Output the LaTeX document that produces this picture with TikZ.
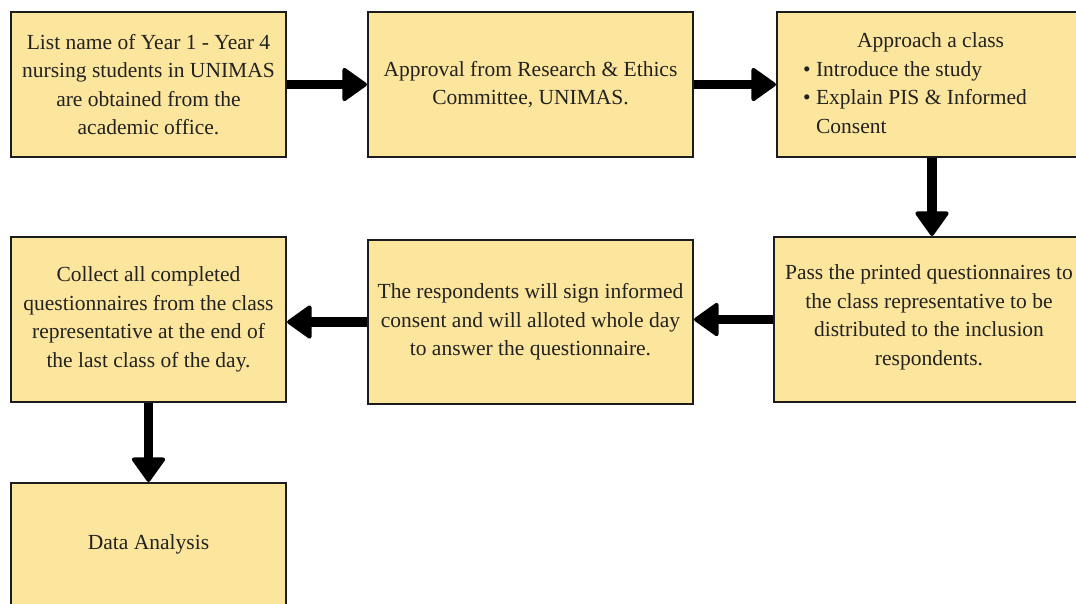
\documentclass[tikz,border=0pt]{standalone}
\usepackage{fontspec}
\setmainfont{Liberation Serif}
\usetikzlibrary{arrows.meta}
\definecolor{boxfill}{HTML}{FCE59C}
\definecolor{boxline}{HTML}{1C1C1C}
\definecolor{txt}{HTML}{222222}
\tikzset{
  box/.style={draw=boxline, line width=2.2pt, fill=boxfill, rectangle, inner sep=0pt,
    text=txt, align=center, font=\fontsize{21.5}{28.5}\selectfont},
  flowarrow/.style={line width=9.5pt, draw=black,
    -{Triangle[length=26pt, width=36pt, line width=4pt, round]}},
  boxtext/.style={inner sep=0pt, text=txt, font=\fontsize{21.5}{28.5}\selectfont}
}
\begin{document}
\begin{tikzpicture}[x=1pt,y=-1pt]
\useasboundingbox (0,0) rectangle (1076,603);
\fill[white] (0,0) rectangle (1076,603);
\clip (0,0) rectangle (1076,603);

\node[box, minimum width=275pt, minimum height=145pt] (A) at (148.5,84.5)
  {List name of Year 1 - Year 4\\nursing students in UNIMAS\\are obtained from the\\academic office.};
\node[box, minimum width=325pt, minimum height=145pt] (B) at (530.5,84.5)
  {Approval from Research \& Ethics\\Committee, UNIMAS.};
\node[box, minimum width=310pt, minimum height=145pt] (C) at (932,84.5) {};
\node[boxtext, align=left] (Ct) at (915,83)
  {\hspace*{54pt}Approach a class\\\textbullet\ Introduce the study\\\textbullet\ Explain PIS \& Informed\\\phantom{\textbullet\ }Consent};

\node[box, minimum width=275pt, minimum height=165pt] (D) at (148.5,319.5)
  {Collect all completed\\questionnaires from the class\\representative at the end of\\the last class of the day.};
\node[box, minimum width=325pt, minimum height=164pt] (E) at (530.5,322)
  {The respondents will sign informed\\consent and will alloted whole day\\to answer the questionnaire.};
\node[box, minimum width=316pt, minimum height=165pt] (F) at (932,319.5) {};
\node[boxtext, align=center] (Ft) at (929,317.5)
  {Pass the printed questionnaires to\\the class representative to be\\distributed to the inclusion\\respondents.};

\node[box, minimum width=275pt, minimum height=122pt] (G) at (148.5,544)
  {Data Analysis};

\draw[flowarrow] (A.east) -- (B.west);
\draw[flowarrow] (B.east) -- (C.west);
\draw[flowarrow] (C.south) -- (F.north);
\draw[flowarrow] (F.west) -- (E.east |- F.west);
\draw[flowarrow] (E.west) -- (D.east |- E.west);
\draw[flowarrow] (D.south) -- (G.north);
\end{tikzpicture}
\end{document}
